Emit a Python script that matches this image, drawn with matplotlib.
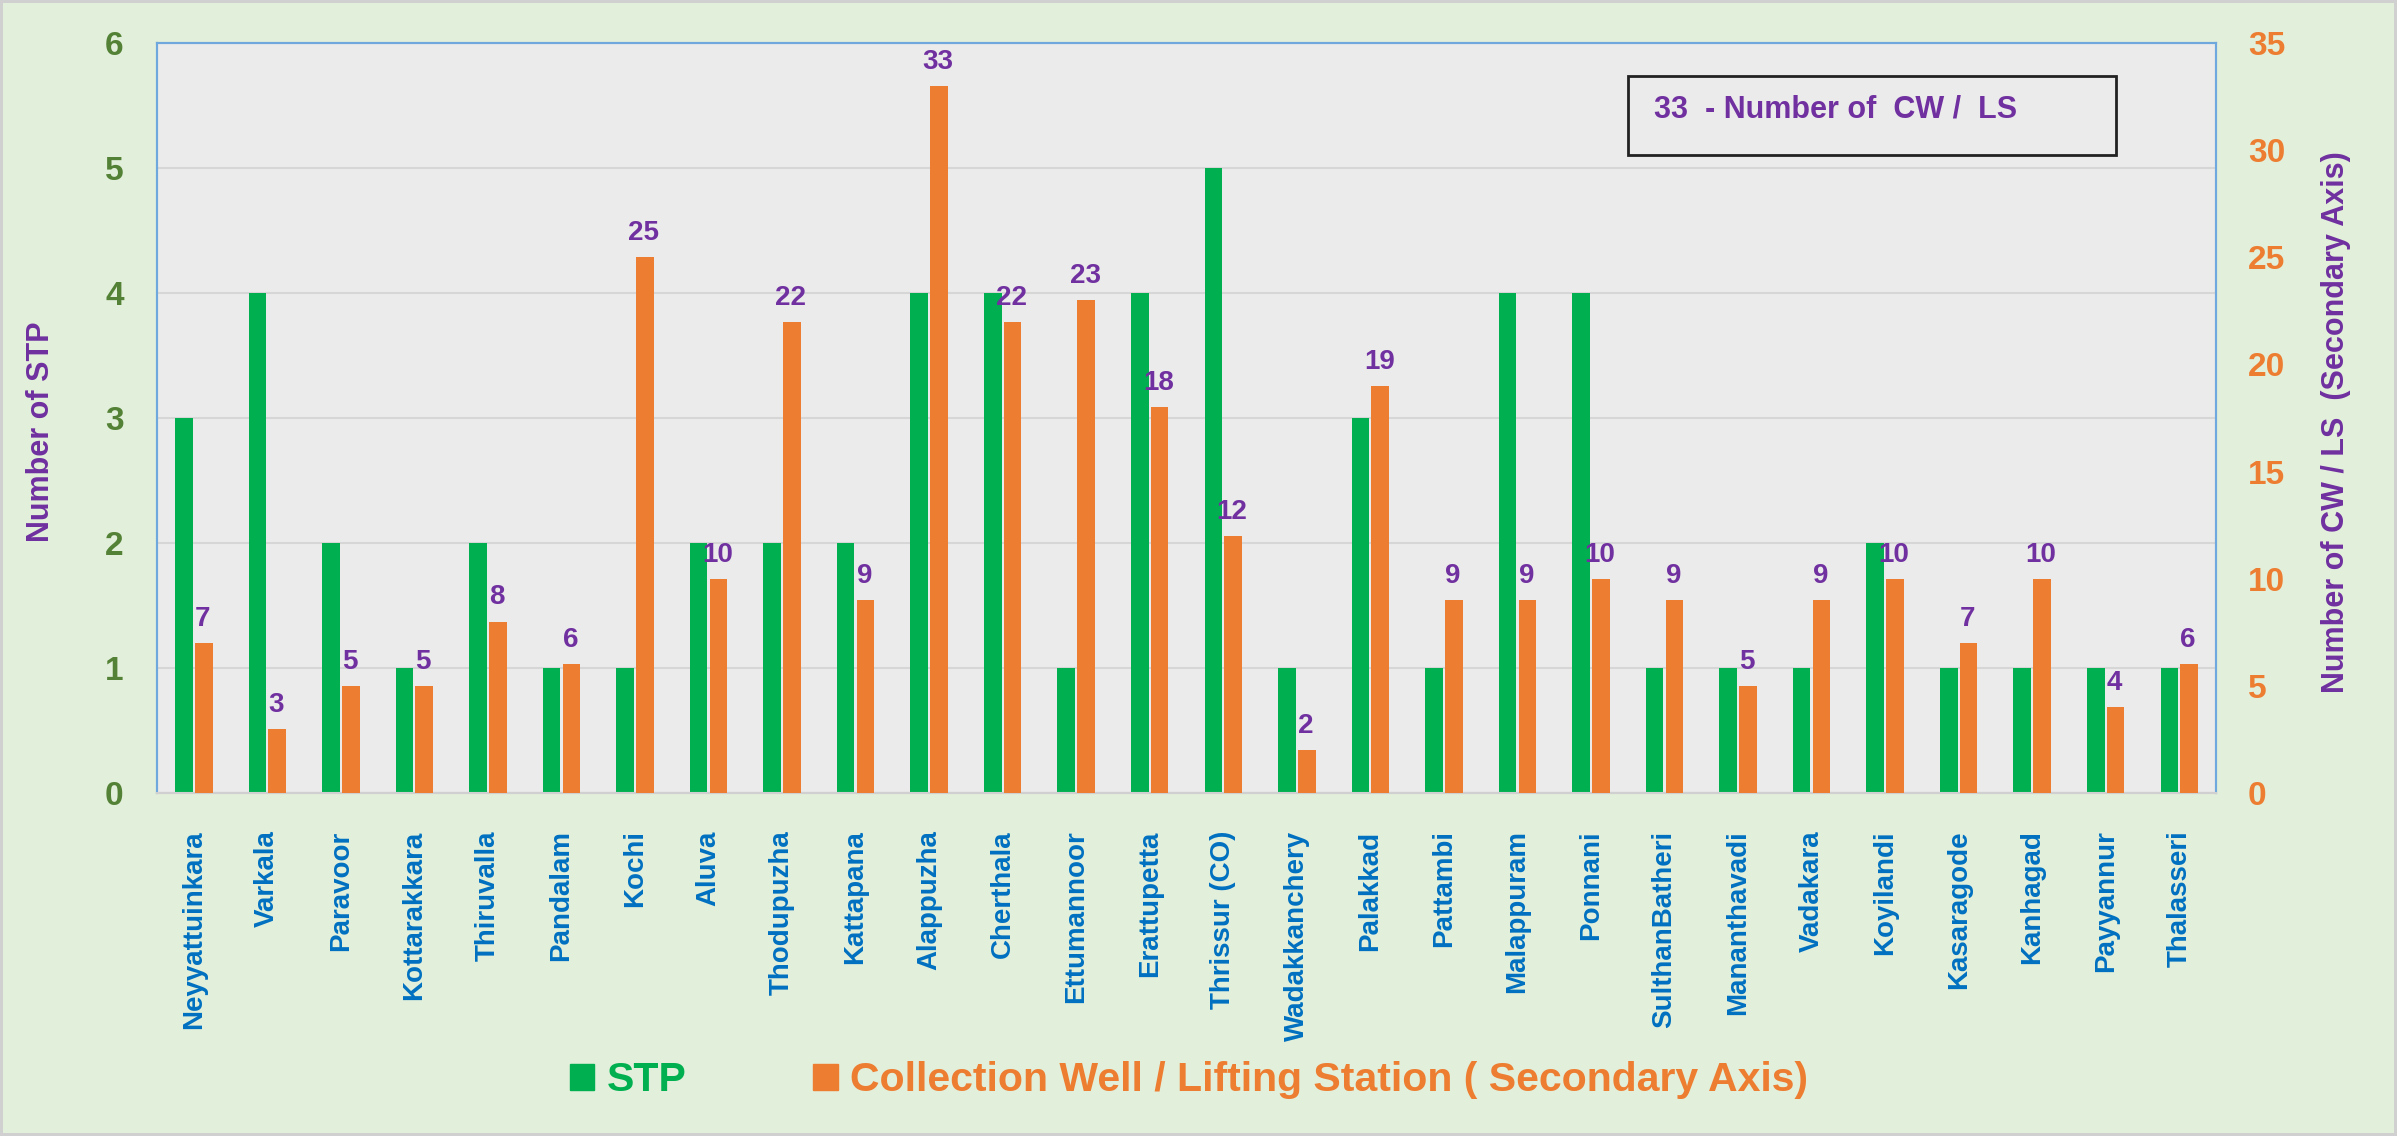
import numpy as np
import matplotlib
matplotlib.use('Agg')
import matplotlib.pyplot as plt
from matplotlib import font_manager
from matplotlib.patches import Rectangle, Patch

# --- DATA ---
towns = ['Neyyattuinkara', 'Varkala', 'Paravoor', 'Kottarakkara', 'Thiruvalla', 'Pandalam',
         'Kochi', 'Aluva', 'Thodupuzha', 'Kattapana', 'Alappuzha', 'Cherthala', 'Ettumannoor',
         'Erattupetta', 'Thrissur (CO)', 'Wadakkanchery', 'Palakkad', 'Pattambi', 'Malappuram',
         'Ponnani', 'SulthanBatheri', 'Mananthavadi', 'Vadakara', 'Koyilandi', 'Kasaragode',
         'Kanhagad', 'Payyannur', 'Thalasseri']
stp = [3, 4, 2, 1, 2, 1, 1, 2, 2, 2, 4, 4, 1, 4, 5, 1, 3, 1, 4, 4, 1, 1, 1, 2, 1, 1, 1, 1]
cw_ls = [7, 3, 5, 5, 8, 6, 25, 10, 22, 9, 33, 22, 23, 18, 12, 2, 19, 9, 9, 10, 9, 5, 9, 10, 7, 10, 4, 6]

# --- FONT ---
names = {f.name for f in font_manager.fontManager.ttflist}
fam = 'Liberation Sans Narrow' if 'Liberation Sans Narrow' in names else 'Liberation Sans'
plt.rcParams['font.family'] = [fam, 'DejaVu Sans']
plt.rcParams['font.weight'] = 'bold'

GREEN = '#00B050'
ORANGE = '#ED7D31'
PURPLE = '#7030A0'
BLUE = '#0070C0'
OLIVE = '#538135'

fig = plt.figure(figsize=(23.97, 11.36), dpi=100)
fig.patch.set_facecolor('#E2EFDA')
fig.patch.set_edgecolor('#D0D0D0')
fig.patch.set_linewidth(4)

ax = fig.add_axes([0.0655, 0.302, 0.859, 0.66])
ax2 = ax.twinx()
ax.set_facecolor('#EBEBEB')

x = np.arange(len(towns))
w = 0.24
ax.bar(x - 0.135, stp, width=w, color=GREEN, zorder=3)
ax2.bar(x + 0.135, cw_ls, width=w, color=ORANGE, zorder=3)

for xi, v in zip(x, cw_ls):
    ax2.annotate(str(v), (xi + 0.12, v), xytext=(0, 8), textcoords='offset points',
                 ha='center', va='bottom', color=PURPLE, fontsize=20, fontweight='bold')

ax.set_xlim(-0.5, len(towns) - 0.5)
ax.set_ylim(0, 6)
ax2.set_ylim(0, 35)
ax.set_yticks(range(0, 7))
ax2.set_yticks(range(0, 36, 5))
ax.yaxis.grid(True, color='#D6D6D6', linewidth=1.5, zorder=0)
ax.set_axisbelow(True)

ax.set_xticks(x)
ax.set_xticklabels(towns, rotation=90, color=BLUE, fontsize=20, fontweight='bold')
ax.tick_params(axis='x', length=0, pad=27)
ax.tick_params(axis='y', length=0, pad=24, labelsize=24, labelcolor=OLIVE)
ax2.tick_params(axis='y', length=0, pad=23, labelsize=24, labelcolor=ORANGE)

fig.text(41 / 2397, 1 - 432 / 1136, 'Number of STP', rotation=90, ha='center', va='center',
         color=PURPLE, fontsize=22, fontweight='bold')
fig.text(2336 / 2397, 1 - 422 / 1136, 'Number of CW / LS  (Secondary Axis)', rotation=90,
         ha='center', va='center', color=PURPLE, fontsize=22, fontweight='bold')

for a in (ax, ax2):
    for side in ('left', 'right', 'top'):
        a.spines[side].set_color('#6FA8DC')
        a.spines[side].set_linewidth(1.5)
    a.spines['bottom'].set_color('#D0D0D0')
    a.spines['bottom'].set_linewidth(1.5)

# note box
ax2.text(0.727, 0.912, '33  - Number of  CW /  LS', transform=ax.transAxes,
         ha='left', va='center', color=PURPLE, fontsize=22, fontweight='bold', zorder=5)
ax2.add_patch(Rectangle((0.7144, 0.8507), 0.237, 0.1053, transform=ax.transAxes,
                        facecolor='#EBEBEB', edgecolor='#222222', linewidth=2, zorder=4))

handles = [Patch(color=GREEN, label='STP'),
           Patch(color=ORANGE, label='Collection Well / Lifting Station ( Secondary Axis)')]
leg = fig.legend(handles=handles, loc='center', bbox_to_anchor=(0.496, 0.049), ncol=2,
                 frameon=False, fontsize=29.5, handlelength=0.6, handleheight=0.6,
                 handletextpad=0.3, columnspacing=3.1)
leg.get_texts()[0].set_color(GREEN)
leg.get_texts()[1].set_color(ORANGE)

plt.savefig('out.png', dpi=100, facecolor=fig.get_facecolor(), edgecolor=fig.get_edgecolor())
